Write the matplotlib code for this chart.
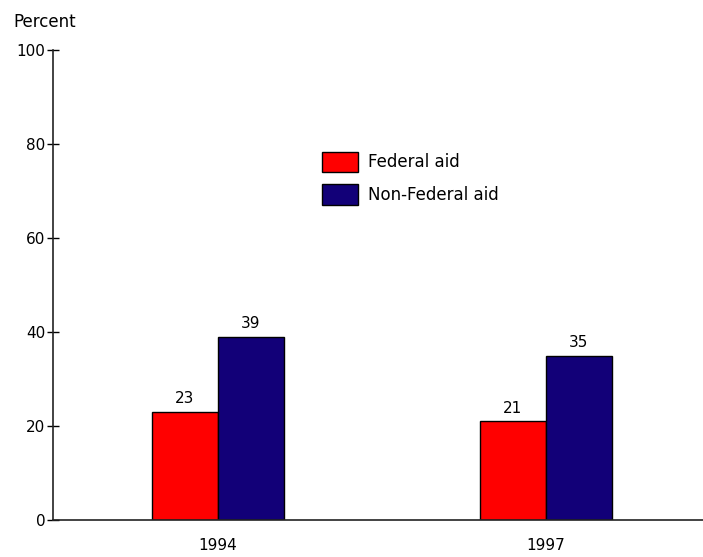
import numpy as np
import matplotlib
matplotlib.use("Agg")
import matplotlib.pyplot as plt

plt.rcParams['font.family'] = ['DejaVu Sans']

# data
years = ['1994', '1997']
federal = [23, 21]
non_federal = [39, 35]
series_names = ['Federal aid', 'Non-Federal aid']
yticks = [0, 20, 40, 60, 80, 100]

fs = 11

fig = plt.figure(figsize=(7.03, 5.57), dpi=100)
ax = fig.add_axes([53/703, 37/557, 650/703, 470/557])

x = np.arange(len(years))
w = 0.201
b1 = ax.bar(x - w/2, federal, w, color='#ff0000', edgecolor='black', linewidth=1, label=series_names[0])
b2 = ax.bar(x + w/2, non_federal, w, color='#120078', edgecolor='black', linewidth=1, label=series_names[1])
ax.bar_label(b1, padding=4, fontsize=fs)
ax.bar_label(b2, padding=4, fontsize=fs)

ax.set_xlim(-0.503, 1.479)
ax.set_ylim(0, 100)
ax.set_xticks(x)
ax.set_xticklabels(years, fontsize=fs)
ax.set_yticks(yticks)
ax.set_yticklabels([str(t) for t in yticks], fontsize=fs)
ax.tick_params(axis='x', length=0, pad=13)
ax.tick_params(axis='y', direction='inout', length=9, width=1, pad=1)

for s in ['top', 'right']:
    ax.spines[s].set_visible(False)
for s in ['left', 'bottom']:
    ax.spines[s].set_linewidth(1.2)
    ax.spines[s].set_color('#222222')

ax.legend(loc='upper left', bbox_to_anchor=((315-53)/650, (557-37-145)/470),
          frameon=False, fontsize=12, handlelength=2.16, handleheight=1.51,
          labelspacing=0.72, handletextpad=0.62, borderaxespad=0)

fig.text(13/703, 1 - 22/557, 'Percent', fontsize=12, va='center', ha='left')

fig.savefig('out.png', dpi=100)
